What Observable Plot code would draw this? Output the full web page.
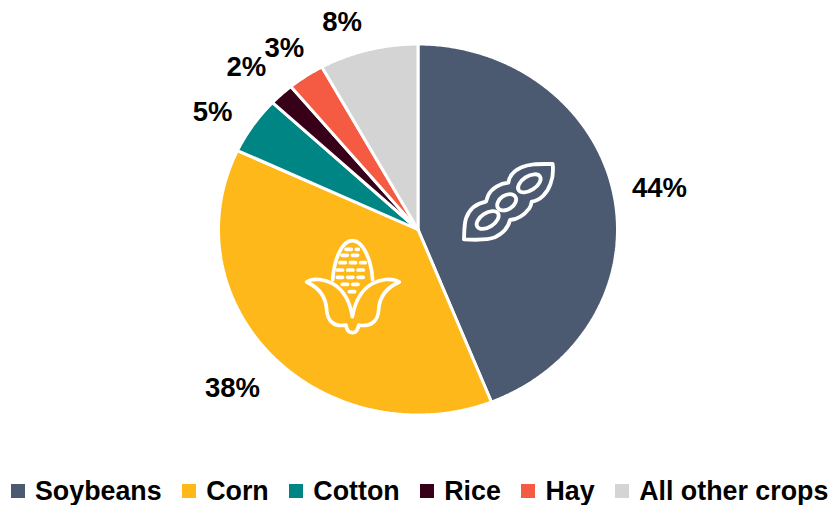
<!DOCTYPE html>
<html>
<head>
<meta charset="utf-8">
<script src="https://cdn.jsdelivr.net/npm/d3@7"></script>
<script src="https://cdn.jsdelivr.net/npm/@observablehq/plot@0.6"></script>
<style>
  html, body { margin: 0; padding: 0; background: #fff; width: 831px; height: 505px; overflow: hidden; }
  body, svg { font-family: "Liberation Sans", Arial, sans-serif; }
  #chart svg { display: block; }
  #legend { height: 40px; padding-left: 11px; white-space: nowrap; }
  #legend .crops, #legend .crops-swatches { font: bold 26.8px "Liberation Sans", Arial, sans-serif; color: #000; margin: 0; min-height: 0; display: flex; flex-wrap: nowrap; align-items: center; height: 52px; }
  #legend .crops-swatch { margin-right: 20.6px; display: inline-flex; align-items: center; }
  #legend .crops-swatch > svg { margin-right: 10px; }
</style>
</head>
<body>
<div id="chart"></div>
<div id="legend"></div>
<script>
// Share of acreage by crop, percent
const crops = ["Soybeans", "Corn", "Cotton", "Rice", "Hay", "All other crops"];
const shares = [44, 38, 5, 2, 3, 8];
const cropColors = ["#4b5a70", "#ffb81a", "#008585", "#370018", "#f55a42", "#d4d4d4"];

// Where each percentage sits, in the pie's unit coordinates
const labelX = [1.21, -0.93, -1.03, -0.86, -0.67, -0.38];
const labelY = [0.225, -0.855, 0.635, 0.875, 0.98, 1.115];

// Each wedge as a closed ring: centre, points along the rim, back to centre
const arcs = d3.pie().sort(null).value(d => d)(shares);
const rings = arcs.flatMap((a, i) => {
  const steps = Math.max(2, Math.ceil((a.endAngle - a.startAngle) / 0.01));
  const rim = d3.range(steps + 1).map(k => {
    const t = a.startAngle + (a.endAngle - a.startAngle) * k / steps;
    return {crop: crops[i], x: Math.sin(t), y: Math.cos(t)};
  });
  const hub = {crop: crops[i], x: 0, y: 0};
  return [hub, ...rim, hub];
});

const labels = crops.map((crop, i) => ({crop, text: `${shares[i]}%`, x: labelX[i], y: labelY[i]}));

// White line-art pictograms laid over the two largest wedges
function soybeanIcon() {
  const g = d3.create("svg:g")
    .attr("transform", "translate(440,140) scale(0.3333)")
    .attr("fill", "none").attr("stroke", "#fff").attr("stroke-width", 11.5).attr("stroke-linejoin", "round");
  g.append("path").attr("d",
    "M338,72 C300,72 270,70 245,82 C222,92 208,108 205,128 C180,130 155,145 145,165 C142,172 140,180 138,185 C110,190 88,208 78,235 C72,255 73,280 72,298 C105,300 140,302 165,292 C190,280 205,262 210,240 C235,238 255,222 268,205 C272,198 274,192 275,185 C300,182 322,160 332,130 C340,110 340,90 338,72 Z");
  for (const [cx, cy, rx, ry] of [[268, 130, 38, 21], [200, 187, 31, 21], [143, 240, 37, 21]]) {
    g.append("ellipse").attr("cx", cx).attr("cy", cy).attr("rx", rx).attr("ry", ry)
      .attr("transform", `rotate(-33 ${cx} ${cy})`);
  }
  return g.node();
}

function cornIcon() {
  const g = d3.create("svg:g")
    .attr("transform", "translate(290,230) scale(0.3333)")
    .attr("fill", "none").attr("stroke", "#fff").attr("stroke-width", 11)
    .attr("stroke-linejoin", "round").attr("stroke-linecap", "round");
  // cob
  g.append("path").attr("d", "M128,150 C132,90 155,32 187,32 C220,32 244,90 248,150");
  // husk
  g.append("path").attr("d",
    "M187,260 C180,215 160,180 130,162 C105,148 70,142 50,156 C80,170 108,195 110,240 C112,275 135,292 168,285 C170,302 178,308 187,308 C196,308 204,302 206,285 C240,292 264,275 266,240 C268,195 296,170 328,156 C305,142 270,148 245,162 C215,180 195,215 187,260 Z");
  // kernel rows
  const rows = [[58, 168, 205], [76, 156, 216], [98, 150, 226], [120, 142, 234], [142, 142, 234], [163, 157, 215], [185, 178, 196]];
  for (const [y, x1, x2] of rows) {
    g.append("line").attr("x1", x1).attr("x2", x2).attr("y1", y).attr("y2", y)
      .attr("stroke-width", 11).attr("stroke-dasharray", "16 15");
  }
  return g.node();
}

const plot = Plot.plot({
  width: 831,
  height: 465,
  margin: 0,
  x: {domain: [-1, 1], range: [218, 617], axis: null},
  y: {domain: [-1, 1], range: [414.5, 43.5], axis: null},
  color: {domain: crops, range: cropColors},
  marks: [
    Plot.line(rings, {x: "x", y: "y", z: "crop", fill: "crop", stroke: "#fff", strokeWidth: 3, strokeLinejoin: "miter"}),
    soybeanIcon,
    cornIcon,
    Plot.text(labels, {x: "x", y: "y", text: "text", fill: "#000", fontSize: 27.5, fontWeight: "bold", fontFamily: "Liberation Sans"})
  ]
});
document.getElementById("chart").append(plot);

document.getElementById("legend").append(
  plot.legend("color", {legend: "swatches", swatchSize: 14, className: "crops"})
);
</script>
</body>
</html>
